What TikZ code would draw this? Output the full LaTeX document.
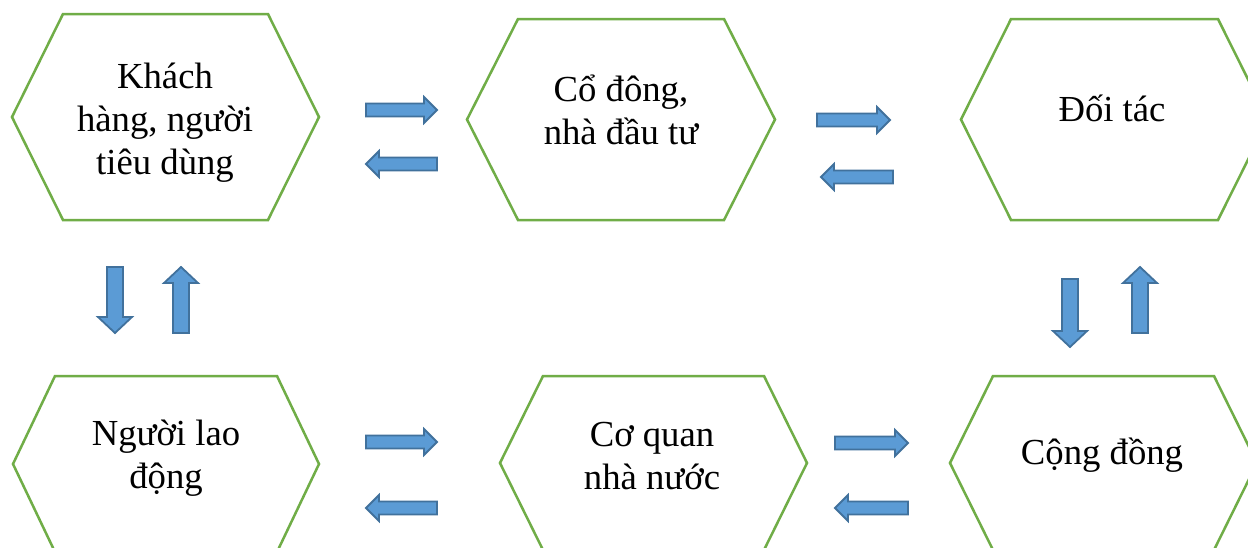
\documentclass[tikz,border=0pt]{standalone}
\usepackage{fontspec}
\setmainfont{Liberation Serif}
\usetikzlibrary{calc}
\definecolor{hexgreen}{HTML}{70AD47}
\definecolor{arrfill}{HTML}{5B9BD5}
\definecolor{arrdraw}{HTML}{41719C}
\tikzset{
  hexa/.style={draw=hexgreen, line width=2.5pt, line join=miter},
  blockarrow/.style={fill=arrfill, draw=arrdraw, line width=1.8pt, line join=miter},
  lbl/.style={font=\fontsize{36.7}{43}\selectfont, align=center, inner sep=0pt, anchor=base}
}
% hexagon around a named coordinate: #1 centre, #2 half width, #3 half height, #4 inset
\newcommand\hexshape[4]{%
  \draw[hexa] ($(#1)+(-#2,0)$) -- ($(#1)+(-#2+#4,-#3)$) -- ($(#1)+(#2-#4,-#3)$)
    -- ($(#1)+(#2,0)$) -- ($(#1)+(#2-#4,#3)$) -- ($(#1)+(-#2+#4,#3)$) -- cycle;}
% horizontal block arrow from coordinate #1 (tail) to #2 (tip), same y
\newcommand\harrow[2]{%
  \draw[blockarrow] let \p1=(#1), \p2=(#2), \n1={(\x2>\x1)?1:-1} in
    (\x1,\y1+6.5) -- (\x2-\n1*13,\y1+6.5) -- (\x2-\n1*13,\y1+13) -- (\x2,\y1)
    -- (\x2-\n1*13,\y1-13) -- (\x2-\n1*13,\y1-6.5) -- (\x1,\y1-6.5) -- cycle;}
% vertical block arrow from coordinate #1 (tail) to #2 (tip), same x
\newcommand\varrow[2]{%
  \draw[blockarrow] let \p1=(#1), \p2=(#2), \n1={(\y2>\y1)?1:-1} in
    (\x1-8,\y1) -- (\x1-8,\y2-\n1*16) -- (\x1-17,\y2-\n1*16) -- (\x2,\y2)
    -- (\x1+17,\y2-\n1*16) -- (\x1+8,\y2-\n1*16) -- (\x1+8,\y1) -- cycle;}
\begin{document}
\begin{tikzpicture}[x=1pt,y=-1pt]
\useasboundingbox (0,0) rectangle (1248,547);
\clip (0,0) rectangle (1248,547);
\fill[white] (0,0) rectangle (1248,547);
% hexagon centres
\coordinate (h1) at (165.5,117);
\coordinate (h2) at (621,119.5);
\coordinate (h3) at (1114.5,119.5);
\coordinate (h4) at (166,464);
\coordinate (h5) at (653.5,463);
\coordinate (h6) at (1103.5,463);
\hexshape{h1}{153.5}{103}{51}
\hexshape{h2}{154}{100.5}{51}
\hexshape{h3}{153.5}{100.5}{50}
\hexshape{h4}{153}{88}{42}
\hexshape{h5}{153.5}{87}{43}
\hexshape{h6}{153.5}{87}{43}
% labels
\node[lbl] (t1) at (165,174) {Khách\\hàng, người\\tiêu dùng};
\node[lbl] (t2) at (621,144) {Cổ đông,\\nhà đầu tư};
\node[lbl] (t3) at (1112,121) {Đối tác};
\node[lbl] (t4) at (166,488) {Người lao\\động};
\node[lbl] (t5) at (652,489) {Cơ quan\\nhà nước};
\node[lbl] (t6) at (1102,464) {Cộng đồng};
% arrow end points
\coordinate (a1s) at (366,110); \coordinate (a1e) at (437,110);
\coordinate (b1s) at (437,164); \coordinate (b1e) at (366,164);
\coordinate (a2s) at (817,120); \coordinate (a2e) at (890,120);
\coordinate (b2s) at (893,177); \coordinate (b2e) at (821,177);
\coordinate (a3s) at (366,442); \coordinate (a3e) at (437,442);
\coordinate (b3s) at (437,508); \coordinate (b3e) at (366,508);
\coordinate (a4s) at (835,443); \coordinate (a4e) at (908,443);
\coordinate (b4s) at (908,508); \coordinate (b4e) at (835,508);
\coordinate (v1s) at (115,267); \coordinate (v1e) at (115,333);
\coordinate (u1s) at (181,333); \coordinate (u1e) at (181,267);
\coordinate (v2s) at (1070,279); \coordinate (v2e) at (1070,347);
\coordinate (u2s) at (1140,333); \coordinate (u2e) at (1140,267);
\harrow{a1s}{a1e}
\harrow{b1s}{b1e}
\harrow{a2s}{a2e}
\harrow{b2s}{b2e}
\harrow{a3s}{a3e}
\harrow{b3s}{b3e}
\harrow{a4s}{a4e}
\harrow{b4s}{b4e}
\varrow{v1s}{v1e}
\varrow{u1s}{u1e}
\varrow{v2s}{v2e}
\varrow{u2s}{u2e}
\end{tikzpicture}
\end{document}
